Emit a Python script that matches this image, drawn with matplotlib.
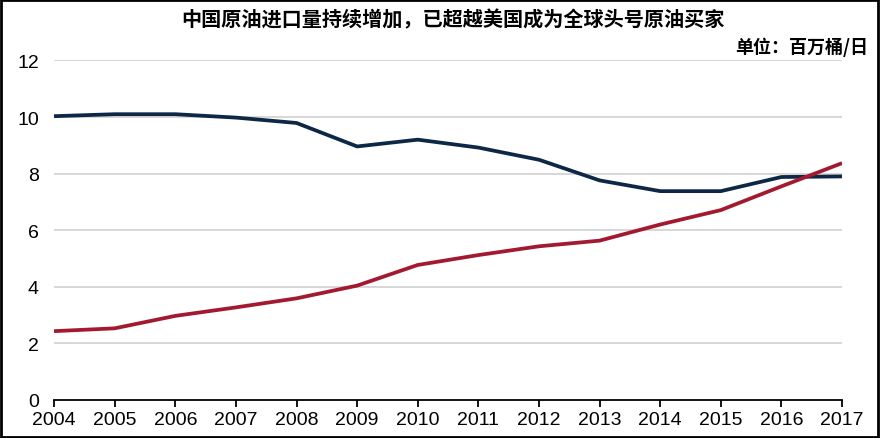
import matplotlib.pyplot as plt
import matplotlib.patches as mpatches
import numpy as np

years = list(range(2004, 2018))
us_imports = [10.03, 10.1, 10.1, 9.98, 9.79, 8.96, 9.2, 8.92, 8.49, 7.76, 7.38, 7.38, 7.88, 7.9]
cn_imports = [2.43, 2.53, 2.97, 3.27, 3.59, 4.04, 4.77, 5.12, 5.43, 5.63, 6.2, 6.71, 7.55, 8.37]
y_ticks = [0, 2, 4, 6, 8, 10, 12]

title = '中国原油进口量持续增加，已超越美国成为全球头号原油买家'
unit = '单位：百万桶/日'

plt.rcParams['font.family'] = ['Liberation Sans', 'DejaVu Sans']
cjk = ['Noto Sans CJK SC', 'DejaVu Sans']

fig = plt.figure(figsize=(8.8, 4.39), dpi=100)
ax = fig.add_axes([0.0614, 0.0868, 0.8955, 0.7732])

ax.plot(years, us_imports, color='#0c2846', lw=2.7, solid_capstyle='butt', zorder=3)
ax.plot(years, cn_imports, color='#a31a30', lw=2.7, solid_capstyle='butt', zorder=4)

ax.set_xlim(2004, 2017)
ax.set_ylim(0, 12)
ax.set_xticks(years)
ax.set_yticks(y_ticks)
for v in y_ticks[1:]:
    ax.axhline(v, color='#d4d4d4', lw=1.3, zorder=1)

for s in ['top', 'right', 'left']:
    ax.spines[s].set_visible(False)
ax.spines['bottom'].set_linewidth(1.3)
ax.spines['bottom'].set_color('black')
ax.tick_params(axis='x', direction='out', length=5, width=1.3, labelsize=14, pad=3)
ax.tick_params(axis='y', length=0, labelsize=14, pad=11)

fig.text(0.515, 0.955, title, ha='center', va='center', fontsize=14.5,
         fontweight='bold', family=cjk)
fig.text(0.987, 0.893, unit, ha='right', va='center', fontsize=13,
         fontweight='bold', family=cjk)

fig.patches.append(mpatches.Rectangle((0.001, 0.002), 0.997, 0.995, transform=fig.transFigure,
                                      fill=False, edgecolor='black', lw=2))

fig.savefig('out.png', dpi=100)
